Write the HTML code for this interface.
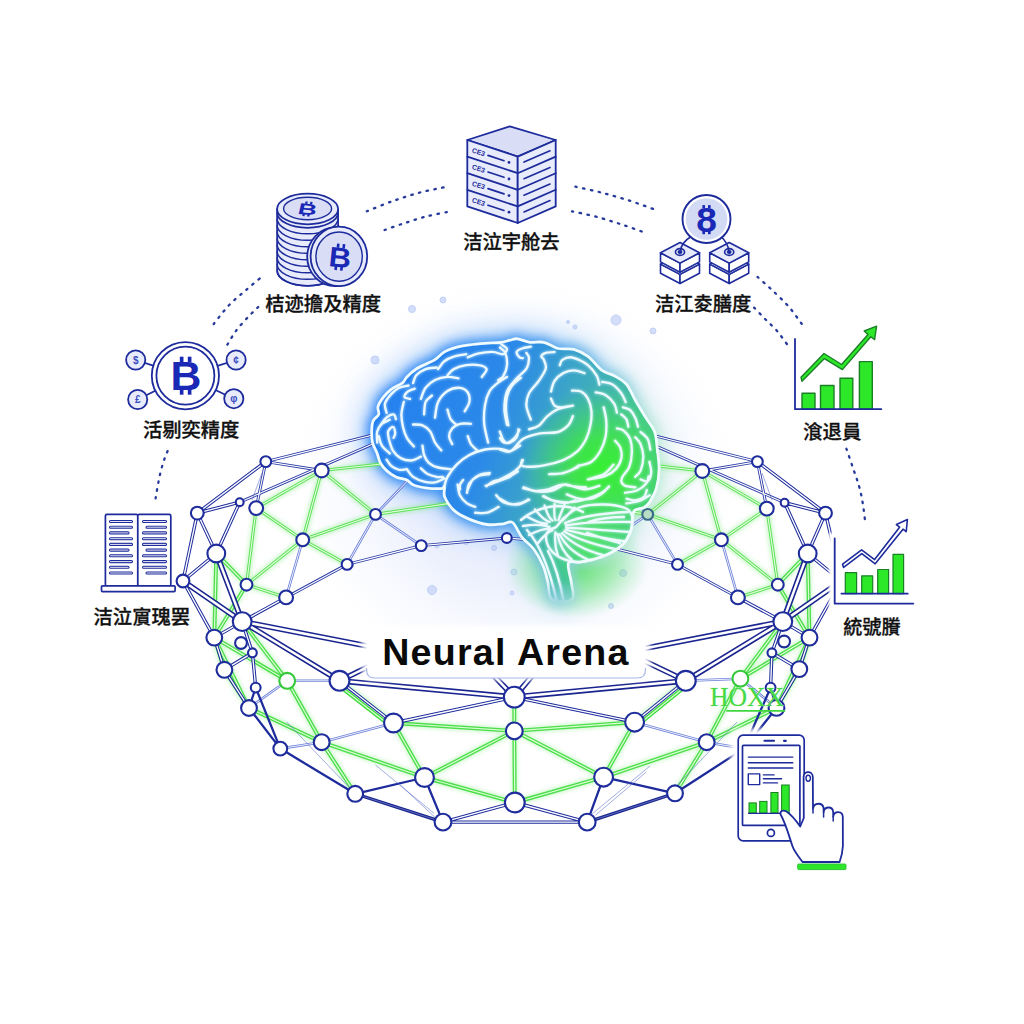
<!DOCTYPE html>
<html lang="zh"><head><meta charset="utf-8"><title>Neural Arena</title>
<style>
html,body{margin:0;padding:0;background:#fff;}
body{width:1024px;height:1024px;overflow:hidden;position:relative;font-family:"Liberation Sans","Noto Sans CJK SC",sans-serif;}
svg{position:absolute;left:0;top:0;display:block;}
.t{position:absolute;white-space:nowrap;color:#111;font-family:"Liberation Sans","Noto Sans CJK SC",sans-serif;font-weight:500;line-height:1;-webkit-text-stroke:0.3px #111;}
</style></head><body>
<svg width="1024" height="1024" viewBox="0 0 1024 1024"><rect width="1024" height="1024" fill="#ffffff"/><defs><radialGradient id="bgglow" gradientUnits="userSpaceOnUse" cx="515" cy="480" r="235" gradientTransform="translate(515 480) scale(1 0.9) translate(-515 -480)">
<stop offset="0" stop-color="#dce4fb" stop-opacity="1"/><stop offset="0.5" stop-color="#e4eafc" stop-opacity="0.8"/><stop offset="0.8" stop-color="#f1f4fe" stop-opacity="0.35"/><stop offset="1" stop-color="#ffffff" stop-opacity="0"/></radialGradient></defs><rect width="1024" height="1024" fill="url(#bgglow)" opacity="0.85"/><circle cx="412" cy="309" r="3.5" fill="#c9d6f8" stroke="#b3c4f3" stroke-width="1" opacity="0.8"/><circle cx="616" cy="320" r="5" fill="#c9d6f8" stroke="#b3c4f3" stroke-width="1" opacity="0.8"/><circle cx="443" cy="300" r="3" fill="#c9d6f8" stroke="#b3c4f3" stroke-width="1" opacity="0.8"/><circle cx="575" cy="327" r="2" fill="#c9d6f8" stroke="#b3c4f3" stroke-width="1" opacity="0.8"/><circle cx="653" cy="331" r="3" fill="#c9d6f8" stroke="#b3c4f3" stroke-width="1" opacity="0.8"/><circle cx="375" cy="360" r="4" fill="#c9d6f8" stroke="#b3c4f3" stroke-width="1" opacity="0.8"/><circle cx="432" cy="590" r="4.5" fill="#c9d6f8" stroke="#b3c4f3" stroke-width="1" opacity="0.8"/><circle cx="514" cy="572" r="3" fill="#c9d6f8" stroke="#b3c4f3" stroke-width="1" opacity="0.8"/><circle cx="623" cy="573" r="3.5" fill="#c9d6f8" stroke="#b3c4f3" stroke-width="1" opacity="0.8"/><circle cx="437" cy="546" r="2" fill="#c9d6f8" stroke="#b3c4f3" stroke-width="1" opacity="0.8"/><circle cx="568" cy="322" r="1.5" fill="#c9d6f8" stroke="#b3c4f3" stroke-width="1" opacity="0.8"/><circle cx="596" cy="370" r="1.5" fill="#c9d6f8" stroke="#b3c4f3" stroke-width="1" opacity="0.8"/><circle cx="352" cy="565" r="2" fill="#c9d6f8" stroke="#b3c4f3" stroke-width="1" opacity="0.8"/><circle cx="494" cy="548" r="2.5" fill="#c9d6f8" stroke="#b3c4f3" stroke-width="1" opacity="0.8"/><circle cx="466" cy="542" r="2.5" fill="#c9d6f8" stroke="#b3c4f3" stroke-width="1" opacity="0.8"/><circle cx="512" cy="593" r="2" fill="#c9d6f8" stroke="#b3c4f3" stroke-width="1" opacity="0.8"/><circle cx="611" cy="606" r="2.5" fill="#c9d6f8" stroke="#b3c4f3" stroke-width="1" opacity="0.8"/><path d="M155.6 498.4C156.3 494.4 158.4 481.3 160.0 474.5C161.6 467.7 163.3 462.2 165.0 457.4C166.7 452.5 169.4 447.4 170.3 445.4" fill="none" stroke="#263a9c" stroke-width="2.3" stroke-linecap="round" stroke-dasharray="1.5 6.4"/><path d="M213.7 324.0C216.2 320.9 223.6 310.9 229.0 305.2C234.4 299.5 240.8 294.6 246.2 289.9C251.6 285.2 259.0 279.1 261.6 276.9" fill="none" stroke="#263a9c" stroke-width="2.3" stroke-linecap="round" stroke-dasharray="1.5 6.4"/><path d="M227.4 344.6C228.8 342.3 232.6 335.5 236.0 330.9C239.4 326.3 244.2 321.2 247.9 317.2C251.6 313.2 256.5 308.7 258.2 307.0" fill="none" stroke="#263a9c" stroke-width="2.3" stroke-linecap="round" stroke-dasharray="1.5 6.4"/><path d="M366.8 211.3C371.2 209.6 384.1 204.1 393.0 201.0C401.9 197.9 411.0 194.9 420.0 192.5C429.0 190.1 442.7 187.7 447.2 186.7" fill="none" stroke="#263a9c" stroke-width="2.3" stroke-linecap="round" stroke-dasharray="1.5 6.4"/><path d="M384.6 230.0C388.0 228.8 398.1 225.2 405.0 223.0C411.9 220.8 419.0 218.3 426.0 216.5C433.0 214.7 443.7 212.8 447.2 212.0" fill="none" stroke="#263a9c" stroke-width="2.3" stroke-linecap="round" stroke-dasharray="1.5 6.4"/><path d="M757.5 276.9C759.9 279.1 766.6 284.9 771.9 289.9C777.1 294.9 783.6 300.7 789.0 307.0C794.4 313.3 801.8 324.1 804.4 327.5" fill="none" stroke="#263a9c" stroke-width="2.3" stroke-linecap="round" stroke-dasharray="1.5 6.4"/><path d="M754.1 307.6C755.9 309.5 761.2 315.0 765.0 318.9C768.8 322.8 773.3 326.6 777.0 330.9C780.7 335.2 785.6 342.3 787.3 344.6" fill="none" stroke="#263a9c" stroke-width="2.3" stroke-linecap="round" stroke-dasharray="1.5 6.4"/><path d="M575.4 186.7C579.7 187.7 592.2 190.2 601.0 192.5C609.8 194.8 619.4 197.5 628.4 200.3C637.4 203.2 650.6 208.1 655.0 209.6" fill="none" stroke="#263a9c" stroke-width="2.3" stroke-linecap="round" stroke-dasharray="1.5 6.4"/><path d="M572.0 211.3C576.3 212.3 589.1 214.8 597.6 217.1C606.1 219.4 614.9 222.3 623.2 225.0C631.5 227.7 643.2 232.1 647.2 233.5" fill="none" stroke="#263a9c" stroke-width="2.3" stroke-linecap="round" stroke-dasharray="1.5 6.4"/><path d="M846.4 448.8C847.5 452.0 850.9 461.8 853.0 468.0C855.1 474.2 857.4 480.4 859.0 486.0C860.6 491.6 861.5 496.1 862.5 501.8C863.5 507.5 864.6 517.0 865.0 520.0" fill="none" stroke="#263a9c" stroke-width="2.3" stroke-linecap="round" stroke-dasharray="1.5 6.4"/><defs>
<path id="brainshape" d="M371.7 430.0C371.8 426.4 372.1 423.2 373.3 420.6C374.5 418.0 377.9 416.7 378.7 414.4C379.5 412.1 377.2 409.5 378.0 406.6C378.8 403.7 381.2 400.1 383.4 397.2C385.6 394.3 388.1 391.8 391.2 389.4C394.3 387.0 399.6 385.2 402.2 383.1C404.8 381.0 404.6 379.2 406.9 376.9C409.2 374.5 412.6 371.4 416.2 369.0C419.8 366.6 425.6 364.4 428.7 362.8C431.8 361.2 432.4 361.5 435.0 359.7C437.6 357.9 440.8 354.0 444.4 351.9C448.0 349.8 452.7 348.4 456.9 347.2C461.1 346.0 464.7 345.4 469.4 344.8C474.1 344.2 479.8 343.7 485.0 343.3C490.2 342.9 496.4 343.0 500.6 342.5C504.8 342.0 507.2 340.8 510.0 340.2C512.8 339.6 514.3 338.4 517.6 338.8C520.9 339.2 525.5 341.7 529.9 342.3C534.3 342.9 539.2 341.3 543.9 342.3C548.6 343.3 553.0 347.3 558.0 348.5C563.0 349.7 568.8 348.0 573.8 349.3C578.8 350.6 583.2 352.9 587.9 356.4C592.6 359.9 597.6 367.2 602.0 370.4C606.4 373.6 610.1 373.3 614.2 375.7C618.3 378.1 623.1 380.4 626.6 384.5C630.1 388.6 632.1 394.7 635.3 400.3C638.5 405.9 642.7 412.6 645.9 417.9C649.1 423.2 652.8 426.7 654.7 432.0C656.6 437.3 656.6 443.4 657.3 449.5C658.0 455.6 659.2 462.4 659.1 468.9C659.0 475.3 658.0 482.6 656.4 488.2C654.8 493.8 651.4 499.1 649.4 502.3C647.4 505.5 646.6 506.1 644.1 507.5C641.6 508.9 636.4 508.6 634.5 510.4C632.6 512.1 633.1 514.7 632.5 518.0C631.9 521.3 632.6 525.9 631.0 530.3C629.4 534.7 627.3 540.1 622.8 544.4C618.3 548.7 611.0 553.1 604.0 556.0C597.0 558.9 586.5 560.8 580.6 562.0C574.7 563.2 570.1 559.7 568.5 563.0C566.9 566.3 570.5 576.1 571.2 581.9C571.9 587.7 574.4 594.6 572.8 598.0C571.2 601.4 565.2 602.0 561.5 602.0C557.8 602.0 553.1 601.4 550.8 598.0C548.5 594.6 549.1 587.3 547.8 581.9C546.5 576.5 545.4 571.0 543.0 565.5C540.6 560.0 537.2 553.7 533.7 549.0C530.2 544.3 525.5 541.7 522.0 537.3C518.5 532.9 515.7 524.8 512.6 522.5C509.5 520.2 507.6 523.5 503.3 523.8C499.0 524.1 492.8 525.4 486.9 524.5C481.0 523.6 473.5 521.0 468.0 518.6C462.5 516.2 457.9 514.0 454.0 510.4C450.1 506.8 446.3 500.9 444.7 497.0C443.1 493.1 445.1 488.4 444.5 487.0C443.9 485.6 444.3 488.5 441.2 488.6C438.1 488.7 430.3 488.5 425.6 487.8C420.9 487.1 416.1 486.0 413.0 484.7C409.9 483.4 409.7 481.3 406.9 480.0C404.1 478.7 399.4 478.5 396.0 476.9C392.6 475.3 389.2 473.0 386.6 470.6C384.0 468.2 381.9 465.7 380.3 462.8C378.7 459.9 378.5 456.8 377.2 453.4C375.9 450.0 373.4 446.4 372.5 442.5C371.6 438.6 371.6 433.6 371.7 430.0Z"/>
<linearGradient id="bg1" gradientUnits="userSpaceOnUse" x1="372" y1="400" x2="662" y2="500">
<stop offset="0" stop-color="#2480f0"/><stop offset="0.40" stop-color="#2b89e8"/><stop offset="0.60" stop-color="#3ca6c6"/><stop offset="0.85" stop-color="#47c49c"/><stop offset="1" stop-color="#4cc890"/></linearGradient>
<radialGradient id="bg2" gradientUnits="userSpaceOnUse" cx="602" cy="469" r="84">
<stop offset="0" stop-color="#36f032" stop-opacity="1"/><stop offset="0.35" stop-color="#3eea3c" stop-opacity="0.85"/><stop offset="1" stop-color="#45dd60" stop-opacity="0"/></radialGradient>
<radialGradient id="bg3" gradientUnits="userSpaceOnUse" cx="590" cy="545" r="60">
<stop offset="0" stop-color="#4ae858" stop-opacity="0.9"/><stop offset="1" stop-color="#4ae070" stop-opacity="0"/></radialGradient>
<linearGradient id="stemg" gradientUnits="userSpaceOnUse" x1="0" y1="580" x2="0" y2="603"><stop offset="0" stop-color="#fff"/><stop offset="1" stop-color="#fff" stop-opacity="0.05"/></linearGradient>
<mask id="stemfade" maskUnits="userSpaceOnUse" x="340" y="320" width="360" height="300"><rect x="340" y="320" width="360" height="300" fill="url(#stemg)"/></mask>
<linearGradient id="gg1" gradientUnits="userSpaceOnUse" x1="372" y1="400" x2="662" y2="480">
<stop offset="0" stop-color="#2a84f6"/><stop offset="0.5" stop-color="#3b94ee"/><stop offset="0.72" stop-color="#7cc4e4"/><stop offset="0.9" stop-color="#b4e6d6"/><stop offset="1" stop-color="#c4eed8"/></linearGradient>
<radialGradient id="gg2" gradientUnits="userSpaceOnUse" cx="576" cy="566" r="62" gradientTransform="translate(576 566) scale(1.15 0.85) translate(-576 -566)">
<stop offset="0" stop-color="#46e24e" stop-opacity="0.8"/><stop offset="0.55" stop-color="#4fe060" stop-opacity="0.42"/><stop offset="1" stop-color="#60e080" stop-opacity="0"/></radialGradient>
<clipPath id="bclip"><use href="#brainshape"/></clipPath>
<filter id="glow1" x="-40%" y="-40%" width="180%" height="180%"><feGaussianBlur stdDeviation="5.5"/></filter>
<filter id="glow2" x="-60%" y="-60%" width="220%" height="220%"><feGaussianBlur stdDeviation="17"/></filter>
<filter id="fglow" x="-10%" y="-10%" width="120%" height="120%"><feGaussianBlur stdDeviation="1.2"/></filter>
</defs><g filter="url(#glow2)" opacity="0.6"><use href="#brainshape" fill="url(#gg1)" stroke="url(#gg1)" stroke-width="8"/></g><ellipse cx="576" cy="566" rx="75" ry="56" fill="url(#gg2)"/><g filter="url(#glow1)" opacity="0.95"><use href="#brainshape" fill="url(#gg1)" stroke="url(#gg1)" stroke-width="9"/></g><defs><filter id="gglow" x="-5%" y="-5%" width="110%" height="110%"><feGaussianBlur stdDeviation="2.2"/></filter></defs><path d="M256.2 508.1L302.7 539.8M766.8 508.6L721.4 539.8M256.2 508.1L246.5 584.7M766.8 508.6L777.8 584.7M256.2 508.1L321.7 470.5M766.8 508.6L702.3 471.0M321.7 470.5L302.7 539.8M702.3 471.0L721.4 539.8M321.7 470.5L375.5 514.4M702.3 471.0L647.7 514.4M302.7 539.8L375.5 514.4M721.4 539.8L647.7 514.4M302.7 539.8L347.1 564.4M721.4 539.8L677.5 564.4M302.7 539.8L246.5 584.7M721.4 539.8L777.8 584.7M246.5 584.7L286.1 597.4M777.8 584.7L737.9 597.4M216.3 553.5L246.5 584.7M807.7 553.5L777.8 584.7M216.3 553.5L214.3 637.6M807.7 553.5L809.5 637.6M246.5 584.7L214.3 637.6M777.8 584.7L809.5 637.6M321.7 470.5L400.0 462.0M702.3 471.0L624.3 462.0M375.5 514.4L452.0 503.0M647.7 514.4L572.3 503.0M214.3 637.6L287.2 680.8M809.5 637.6L740.4 678.7M242.2 621.6L287.2 680.8M782.8 621.6L740.4 678.7M224.4 669.8L249.0 708.0M799.3 669.1L776.5 707.9M287.2 680.8L321.7 742.2M740.4 678.7L706.7 742.2M321.7 742.2L355.2 793.8M706.7 742.2L675.0 793.3M249.0 708.0L321.7 742.2M776.5 707.9L706.7 742.2M321.7 742.2L424.5 777.5M706.7 742.2L603.6 777.2M393.5 723.0L424.5 777.5M634.6 722.2L603.6 777.2M339.5 680.8L393.5 723.0M685.8 680.8L634.6 722.2M214.3 637.6L224.4 669.8M809.5 637.6L799.3 669.1M214.3 637.6L249.0 708.0M809.5 637.6L776.5 707.9M514.3 730.9L514.3 697.1M514.3 730.9L514.8 802.5M393.5 723.0L514.3 730.9M634.6 722.2L514.3 730.9M514.3 730.9L424.5 777.5M514.3 730.9L603.6 777.2M424.5 777.5L514.8 802.5M603.6 777.2L514.8 802.5" fill="none" stroke="#5ee85a" stroke-width="6" opacity="0.32" filter="url(#gglow)"/><g fill="none" stroke-linecap="round"><path d="M256.2 508.1L302.7 539.8M766.8 508.6L721.4 539.8M256.2 508.1L246.5 584.7M766.8 508.6L777.8 584.7M256.2 508.1L321.7 470.5M766.8 508.6L702.3 471.0M321.7 470.5L302.7 539.8M702.3 471.0L721.4 539.8M321.7 470.5L375.5 514.4M702.3 471.0L647.7 514.4M302.7 539.8L375.5 514.4M721.4 539.8L647.7 514.4M302.7 539.8L347.1 564.4M721.4 539.8L677.5 564.4M302.7 539.8L246.5 584.7M721.4 539.8L777.8 584.7M246.5 584.7L286.1 597.4M777.8 584.7L737.9 597.4M321.7 470.5L400.0 462.0M702.3 471.0L624.3 462.0M375.5 514.4L452.0 503.0M647.7 514.4L572.3 503.0" stroke="#5fe25c" stroke-width="3.1"/><path d="M256.2 508.1L302.7 539.8M766.8 508.6L721.4 539.8M256.2 508.1L246.5 584.7M766.8 508.6L777.8 584.7M256.2 508.1L321.7 470.5M766.8 508.6L702.3 471.0M321.7 470.5L302.7 539.8M702.3 471.0L721.4 539.8M321.7 470.5L375.5 514.4M702.3 471.0L647.7 514.4M302.7 539.8L375.5 514.4M721.4 539.8L647.7 514.4M302.7 539.8L347.1 564.4M721.4 539.8L677.5 564.4M302.7 539.8L246.5 584.7M721.4 539.8L777.8 584.7M246.5 584.7L286.1 597.4M777.8 584.7L737.9 597.4M321.7 470.5L400.0 462.0M702.3 471.0L624.3 462.0M375.5 514.4L452.0 503.0M647.7 514.4L572.3 503.0" stroke="#e2fcdc" stroke-width="1.1"/><path d="M216.3 553.5L246.5 584.7M807.7 553.5L777.8 584.7M216.3 553.5L214.3 637.6M807.7 553.5L809.5 637.6M246.5 584.7L214.3 637.6M777.8 584.7L809.5 637.6M214.3 637.6L287.2 680.8M809.5 637.6L740.4 678.7M242.2 621.6L287.2 680.8M782.8 621.6L740.4 678.7M224.4 669.8L249.0 708.0M799.3 669.1L776.5 707.9M287.2 680.8L321.7 742.2M740.4 678.7L706.7 742.2M321.7 742.2L355.2 793.8M706.7 742.2L675.0 793.3M249.0 708.0L321.7 742.2M776.5 707.9L706.7 742.2M321.7 742.2L424.5 777.5M706.7 742.2L603.6 777.2M393.5 723.0L424.5 777.5M634.6 722.2L603.6 777.2M214.3 637.6L224.4 669.8M809.5 637.6L799.3 669.1M214.3 637.6L249.0 708.0M809.5 637.6L776.5 707.9M514.3 730.9L514.3 697.1M514.3 730.9L514.8 802.5M393.5 723.0L514.3 730.9M634.6 722.2L514.3 730.9M514.3 730.9L424.5 777.5M514.3 730.9L603.6 777.2M424.5 777.5L514.8 802.5M603.6 777.2L514.8 802.5" stroke="#3bdc3b" stroke-width="3.9" opacity="0.9"/><path d="M216.3 553.5L246.5 584.7M807.7 553.5L777.8 584.7M216.3 553.5L214.3 637.6M807.7 553.5L809.5 637.6M246.5 584.7L214.3 637.6M777.8 584.7L809.5 637.6M214.3 637.6L287.2 680.8M809.5 637.6L740.4 678.7M242.2 621.6L287.2 680.8M782.8 621.6L740.4 678.7M224.4 669.8L249.0 708.0M799.3 669.1L776.5 707.9M287.2 680.8L321.7 742.2M740.4 678.7L706.7 742.2M321.7 742.2L355.2 793.8M706.7 742.2L675.0 793.3M249.0 708.0L321.7 742.2M776.5 707.9L706.7 742.2M321.7 742.2L424.5 777.5M706.7 742.2L603.6 777.2M393.5 723.0L424.5 777.5M634.6 722.2L603.6 777.2M214.3 637.6L224.4 669.8M809.5 637.6L799.3 669.1M214.3 637.6L249.0 708.0M809.5 637.6L776.5 707.9M514.3 730.9L514.3 697.1M514.3 730.9L514.8 802.5M393.5 723.0L514.3 730.9M634.6 722.2L514.3 730.9M514.3 730.9L424.5 777.5M514.3 730.9L603.6 777.2M424.5 777.5L514.8 802.5M603.6 777.2L514.8 802.5" stroke="#dcfcd4" stroke-width="1.25"/><path d="M336.9 684.1L390.9 726.3M688.4 684.1L637.2 725.5" stroke="#3bdc3b" stroke-width="3.9"/><path d="M336.9 684.1L390.9 726.3M688.4 684.1L637.2 725.5" stroke="#dcfcd4" stroke-width="1.25"/><path d="M347.1 564.4L375.5 514.4M677.5 564.4L647.7 514.4M375.5 514.4L421.2 545.6M647.7 514.4L603.1 545.6M286.1 597.4L302.7 539.8M737.9 597.4L721.4 539.8M375.5 514.4L418.0 470.0M647.7 514.4L606.3 470.0M287.2 680.8L339.5 680.8M740.4 678.7L685.8 680.8M321.7 742.2L393.5 723.0M706.7 742.2L634.6 722.2M280.3 748.6L321.7 742.2M744.0 748.6L706.7 742.2M287.2 680.8L249.0 708.0M740.4 678.7L776.5 707.9" stroke="#6f83d8" stroke-width="2.6"/><path d="M347.1 564.4L375.5 514.4M677.5 564.4L647.7 514.4M375.5 514.4L421.2 545.6M647.7 514.4L603.1 545.6M286.1 597.4L302.7 539.8M737.9 597.4L721.4 539.8M375.5 514.4L418.0 470.0M647.7 514.4L606.3 470.0M287.2 680.8L339.5 680.8M740.4 678.7L685.8 680.8M321.7 742.2L393.5 723.0M706.7 742.2L634.6 722.2M280.3 748.6L321.7 742.2M744.0 748.6L706.7 742.2M287.2 680.8L249.0 708.0M740.4 678.7L776.5 707.9" stroke="#eef1fd" stroke-width="1.0"/><path d="M255.7 687.6L249.0 708.0M770.6 687.6L776.5 707.9M249.0 708.0L280.3 748.6M776.5 707.9L744.0 748.6M280.3 748.6L355.2 793.8M744.0 748.6L675.0 793.3M355.2 793.8L424.5 777.5M675.0 793.3L603.6 777.2M424.5 777.5L443.0 822.1M603.6 777.2L587.2 822.1M255.7 687.6L280.3 748.6M770.6 687.6L744.0 748.6" stroke="#1e2c9c" stroke-width="2.3"/><path d="M255.7 687.6L249.0 708.0M770.6 687.6L776.5 707.9M249.0 708.0L280.3 748.6M776.5 707.9L744.0 748.6M280.3 748.6L355.2 793.8M744.0 748.6L675.0 793.3M355.2 793.8L424.5 777.5M675.0 793.3L603.6 777.2M424.5 777.5L443.0 822.1M603.6 777.2L587.2 822.1M255.7 687.6L280.3 748.6M770.6 687.6L744.0 748.6" stroke="#1e2c9c" stroke-width="0.1"/><path d="M265.8 461.6L256.2 508.1M757.4 461.6L766.8 508.6M265.8 461.6L321.7 470.5M757.4 461.6L702.3 471.0M265.8 461.6L402.0 427.7M757.4 461.6L622.3 427.7M239.7 502.2L402.0 431.3M784.6 502.7L622.3 431.3M286.1 597.4L347.1 564.4M737.9 597.4L677.5 564.4M347.1 564.4L421.2 545.6M677.5 564.4L603.1 545.6M421.2 545.6L506.8 538.0M603.1 545.6L506.8 538.0" stroke="#2a3aa6" stroke-width="2.9"/><path d="M265.8 461.6L256.2 508.1M757.4 461.6L766.8 508.6M265.8 461.6L321.7 470.5M757.4 461.6L702.3 471.0M265.8 461.6L402.0 427.7M757.4 461.6L622.3 427.7M239.7 502.2L402.0 431.3M784.6 502.7L622.3 431.3M286.1 597.4L347.1 564.4M737.9 597.4L677.5 564.4M347.1 564.4L421.2 545.6M677.5 564.4L603.1 545.6M421.2 545.6L506.8 538.0M603.1 545.6L506.8 538.0" stroke="#ffffff" stroke-width="1.15"/><path d="M265.8 461.6L197.3 513.1M757.4 461.6L825.5 513.1M197.3 513.1L239.7 502.2M825.5 513.1L784.6 502.7M197.3 513.1L216.3 553.5M825.5 513.1L807.7 553.5M239.7 502.2L216.3 553.5M784.6 502.7L807.7 553.5M197.3 513.1L183.0 581.0M825.5 513.1L841.3 581.0M183.0 581.0L216.3 553.5M841.3 581.0L807.7 553.5M183.0 581.0L214.3 637.6M841.3 581.0L809.5 637.6M242.2 621.6L214.3 637.6M782.8 621.6L809.5 637.6M242.2 621.6L286.1 597.4M782.8 621.6L737.9 597.4M214.3 637.6L224.4 669.8M809.5 637.6L799.3 669.1M242.2 621.6L252.4 652.8M782.8 621.6L771.9 652.8M252.4 652.8L255.7 687.6M771.9 652.8L770.6 687.6M224.4 669.8L252.4 652.8M799.3 669.1L771.9 652.8M224.4 669.8L249.0 708.0M799.3 669.1L776.5 707.9M339.5 680.8L393.5 723.0M685.8 680.8L634.6 722.2M443.0 822.1L514.8 802.5M587.2 822.1L514.8 802.5M393.5 723.0L514.3 697.1M634.6 722.2L514.3 697.1M443.0 822.1L587.2 822.1" stroke="#1e2c9c" stroke-width="3.4"/><path d="M265.8 461.6L197.3 513.1M757.4 461.6L825.5 513.1M197.3 513.1L239.7 502.2M825.5 513.1L784.6 502.7M197.3 513.1L216.3 553.5M825.5 513.1L807.7 553.5M239.7 502.2L216.3 553.5M784.6 502.7L807.7 553.5M197.3 513.1L183.0 581.0M825.5 513.1L841.3 581.0M183.0 581.0L216.3 553.5M841.3 581.0L807.7 553.5M183.0 581.0L214.3 637.6M841.3 581.0L809.5 637.6M242.2 621.6L214.3 637.6M782.8 621.6L809.5 637.6M242.2 621.6L286.1 597.4M782.8 621.6L737.9 597.4M214.3 637.6L224.4 669.8M809.5 637.6L799.3 669.1M242.2 621.6L252.4 652.8M782.8 621.6L771.9 652.8M252.4 652.8L255.7 687.6M771.9 652.8L770.6 687.6M224.4 669.8L252.4 652.8M799.3 669.1L771.9 652.8M224.4 669.8L249.0 708.0M799.3 669.1L776.5 707.9M339.5 680.8L393.5 723.0M685.8 680.8L634.6 722.2M443.0 822.1L514.8 802.5M587.2 822.1L514.8 802.5M393.5 723.0L514.3 697.1M634.6 722.2L514.3 697.1M443.0 822.1L587.2 822.1" stroke="#ffffff" stroke-width="1.35"/><path d="M355.2 793.8L443.0 822.1M675.0 793.3L587.2 822.1" stroke="#1a258f" stroke-width="3.3"/><path d="M355.2 793.8L443.0 822.1M675.0 793.3L587.2 822.1" stroke="#8a98dc" stroke-width="0.6"/><path d="M216.3 553.5L242.2 621.6M807.7 553.5L782.8 621.6M183.0 581.0L242.2 621.6M841.3 581.0L782.8 621.6M242.2 621.6L339.5 680.8M782.8 621.6L685.8 680.8M242.2 621.6L384.0 649.2M782.8 621.6L640.3 649.2M339.5 680.8L384.0 659.0M685.8 680.8L640.3 659.0M339.5 680.8L514.3 697.1M685.8 680.8L514.3 697.1M514.3 697.1L494.0 676.0M514.3 697.1L532.0 676.0" stroke="#1a258f" stroke-width="5.7"/><path d="M216.3 553.5L242.2 621.6M807.7 553.5L782.8 621.6M183.0 581.0L242.2 621.6M841.3 581.0L782.8 621.6M242.2 621.6L339.5 680.8M782.8 621.6L685.8 680.8M242.2 621.6L384.0 649.2M782.8 621.6L640.3 649.2M339.5 680.8L384.0 659.0M685.8 680.8L640.3 659.0M339.5 680.8L514.3 697.1M685.8 680.8L514.3 697.1M514.3 697.1L494.0 676.0M514.3 697.1L532.0 676.0" stroke="#ffffff" stroke-width="2.5"/></g><path d="M286.6 721.9L355.2 793.8M375.5 765L434 813.3M400 784.7L435.5 817.8M646.3 772L595.5 815.2M737 722L668 795M650 766L592 814M262 473L252 500M762 473L772 500" fill="none" stroke="#5a6cc8" stroke-width="0.8" opacity="0.7"/><g fill="#ffffff" stroke="#1e2c9c" stroke-width="2.1"><circle cx="265.8" cy="461.6" r="5.4"/><circle cx="757.4" cy="461.6" r="5.4"/><circle cx="197.3" cy="513.1" r="6.4"/><circle cx="825.5" cy="513.1" r="6.4"/><circle cx="239.7" cy="502.2" r="3.9"/><circle cx="784.6" cy="502.7" r="3.9"/><circle cx="256.2" cy="508.1" r="6.9"/><circle cx="766.8" cy="508.6" r="6.9"/><circle cx="321.7" cy="470.5" r="6.9"/><circle cx="702.3" cy="471.0" r="6.9"/><circle cx="216.3" cy="553.5" r="8.9"/><circle cx="807.7" cy="553.5" r="8.9"/><circle cx="302.7" cy="539.8" r="6.4"/><circle cx="721.4" cy="539.8" r="6.4"/><circle cx="375.5" cy="514.4" r="5.4"/><circle cx="647.7" cy="514.4" r="5.4" fill="#b9dcc4" stroke="#3a6a8a"/><circle cx="421.2" cy="545.6" r="5.4"/><circle cx="347.1" cy="564.4" r="5.4"/><circle cx="677.5" cy="564.4" r="5.4"/><circle cx="246.5" cy="584.7" r="5.9"/><circle cx="777.8" cy="584.7" r="5.9"/><circle cx="286.1" cy="597.4" r="6.9"/><circle cx="737.9" cy="597.4" r="6.9"/><circle cx="183.0" cy="581.0" r="6.4"/><circle cx="242.2" cy="621.6" r="9.4"/><circle cx="782.8" cy="621.6" r="9.4"/><circle cx="214.3" cy="637.6" r="7.9"/><circle cx="809.5" cy="637.6" r="7.9"/><circle cx="241.0" cy="643.0" r="5.9"/><circle cx="784.1" cy="641.5" r="5.9"/><circle cx="252.4" cy="652.8" r="4.4"/><circle cx="771.9" cy="652.8" r="4.4"/><circle cx="224.4" cy="669.8" r="7.9"/><circle cx="799.3" cy="669.1" r="7.9"/><circle cx="287.2" cy="680.8" r="7.9" stroke="#35c838"/><circle cx="740.4" cy="678.7" r="7.9" stroke="#35c838"/><circle cx="339.5" cy="680.8" r="9.9"/><circle cx="685.8" cy="680.8" r="9.9"/><circle cx="255.7" cy="687.6" r="4.9"/><circle cx="770.6" cy="687.6" r="4.9"/><circle cx="249.0" cy="708.0" r="7.9"/><circle cx="776.5" cy="707.9" r="7.9"/><circle cx="280.3" cy="748.6" r="6.9"/><circle cx="321.7" cy="742.2" r="7.9"/><circle cx="706.7" cy="742.2" r="7.9"/><circle cx="393.5" cy="723.0" r="9.4"/><circle cx="634.6" cy="722.2" r="9.4"/><circle cx="355.2" cy="793.8" r="7.9"/><circle cx="675.0" cy="793.3" r="7.9"/><circle cx="424.5" cy="777.5" r="9.4"/><circle cx="603.6" cy="777.2" r="9.4"/><circle cx="443.0" cy="822.1" r="8.4"/><circle cx="587.2" cy="822.1" r="8.4"/><circle cx="514.3" cy="697.1" r="10.4"/><circle cx="514.3" cy="730.9" r="8.4"/><circle cx="514.8" cy="802.5" r="9.9"/><circle cx="506.8" cy="538.0" r="4.9"/></g><g mask="url(#stemfade)"><g ><use href="#brainshape" fill="url(#bg1)"/><g clip-path="url(#bclip)"><rect x="360" y="330" width="320" height="280" fill="url(#bg2)"/><rect x="360" y="330" width="320" height="280" fill="url(#bg3)"/></g></g><g clip-path="url(#bclip)"><path d="M413.1 383.1C413.6 381.8 414.2 377.7 416.2 375.3C418.3 373.0 422.2 370.4 425.6 369.1C429.0 367.8 434.7 367.8 436.6 367.5M438.1 369.1C439.2 367.8 441.8 363.3 444.4 361.2C447.0 359.2 450.1 357.7 453.8 356.6C457.4 355.4 464.2 354.6 466.2 354.2M467.8 357.3C469.6 356.7 474.6 354.3 478.8 353.4C482.9 352.5 488.8 351.7 492.8 351.9C496.8 352.0 500.6 354.7 503.0 354.2C505.3 353.7 507.1 350.4 506.9 348.8C506.6 347.1 502.3 345.1 501.4 344.4M447.5 375.3C448.5 374.3 450.6 370.8 453.8 369.1C456.9 367.4 462.1 365.8 466.2 365.2C470.4 364.5 475.4 364.5 478.8 365.2C482.1 365.8 486.0 367.1 486.6 369.1C487.1 371.0 482.7 375.6 481.9 376.9M420.9 398.8C421.7 396.9 423.3 390.9 425.6 387.8C428.0 384.7 431.4 381.8 435.0 380.0C438.6 378.2 443.6 377.1 447.5 376.9C451.4 376.6 456.6 378.2 458.4 378.4M424.1 414.4C424.3 412.3 424.3 405.0 425.6 401.9C426.9 398.8 430.8 396.7 431.9 395.6M435.0 417.5C435.5 414.9 436.0 406.3 438.1 401.9C440.2 397.4 443.9 393.3 447.5 390.9C451.1 388.6 456.6 387.6 460.0 387.8C463.4 388.1 466.2 390.2 467.8 392.5C469.4 394.8 469.9 398.8 469.4 401.9C468.9 405.0 465.5 409.7 464.7 411.2M447.5 409.7C448.0 411.2 449.1 416.5 450.6 419.1C452.2 421.7 455.8 424.3 456.9 425.3M452.2 444.1C451.7 442.8 449.1 438.9 449.1 436.2C449.1 433.6 450.4 430.5 452.2 428.4C454.0 426.4 456.9 424.5 460.0 423.8C463.1 423.0 469.1 423.8 470.9 423.8M467.8 436.2C468.3 437.6 469.4 441.7 470.9 444.1C472.5 446.4 476.1 449.3 477.2 450.3M413.1 424.5C414.7 424.7 419.6 424.1 422.5 425.3C425.4 426.5 428.2 428.7 430.3 431.6C432.4 434.4 433.2 439.4 435.0 442.5C436.8 445.6 440.2 449.0 441.2 450.3M414.7 388.6C413.5 389.1 409.3 390.3 407.7 391.7C406.0 393.2 404.1 396.0 404.5 397.2C404.9 398.4 409.1 398.5 410.0 398.8M403.8 401.9C403.4 404.0 401.5 410.2 401.4 414.4C401.3 418.5 402.1 423.0 403.0 426.9C403.9 430.8 405.1 434.6 406.9 437.8C408.7 441.1 412.7 445.0 413.9 446.4M386.6 412.8C386.3 411.2 384.2 406.6 385.0 403.4C385.8 400.3 388.9 396.7 391.2 394.1C393.6 391.5 396.2 389.2 399.1 387.8C401.9 386.4 406.9 385.9 408.4 385.5M380.3 425.3C381.4 424.0 384.3 419.3 386.6 417.5C388.8 415.7 392.0 414.1 393.6 414.4C395.2 414.6 395.5 418.3 395.9 419.1M377.2 442.5C377.2 440.7 376.4 434.7 377.2 431.6C378.0 428.4 379.8 425.7 381.9 423.8C384.0 421.8 388.4 420.5 389.7 419.8M389.7 453.4C388.4 452.1 383.7 448.5 381.9 445.6C380.1 442.8 379.3 437.8 378.8 436.2M388.9 439.4C388.8 438.1 387.5 433.6 388.1 431.6C388.8 429.5 391.6 426.6 392.8 426.9C394.0 427.1 395.0 431.3 395.2 433.1C395.3 434.9 393.9 437.0 393.6 437.8M388.9 439.4C389.6 441.2 390.9 447.2 392.8 450.3C394.8 453.4 397.5 456.4 400.6 458.1C403.8 459.8 408.2 460.7 411.6 460.5C414.9 460.2 419.4 457.2 420.9 456.6M422.5 445.6C422.8 447.2 423.0 452.1 424.1 455.0C425.1 457.9 426.4 460.7 428.8 462.8C431.1 464.9 434.5 466.5 438.1 467.5C441.8 468.5 448.5 468.8 450.6 469.1M386.6 459.7C387.3 460.7 389.2 464.2 391.2 465.9C393.3 467.6 396.5 469.3 399.1 469.8C401.7 470.4 405.6 469.2 406.9 469.1M406.9 469.1C407.9 470.4 410.3 474.8 413.1 476.9C416.0 479.0 420.4 480.7 424.1 481.6C427.7 482.5 431.6 482.9 435.0 482.3C438.4 481.8 442.8 479.1 444.4 478.4M420.9 468.3C422.0 469.2 424.6 472.3 427.2 473.8C429.8 475.2 434.0 476.4 436.6 476.9C439.2 477.4 441.8 476.9 442.8 476.9M488.1 442.5C487.5 439.4 484.7 430.0 484.2 423.8C483.7 417.5 484.1 410.5 485.0 405.0C485.9 399.5 487.6 394.6 489.7 390.9C491.8 387.3 494.6 385.5 497.5 383.1C500.4 380.8 505.3 377.9 506.9 376.9M499.8 431.6C500.4 432.9 501.8 437.5 503.0 439.4C504.1 441.2 504.9 443.1 506.9 442.8C508.8 442.6 512.6 439.9 514.7 437.8C516.8 435.7 518.6 431.3 519.4 430.0M508.4 425.3C508.0 423.0 506.4 415.9 506.1 411.2C505.8 406.6 506.0 401.4 506.9 397.2C507.8 393.0 509.2 389.5 511.6 386.2C513.9 383.0 519.4 379.1 520.9 377.7M444.4 486.2C444.9 484.7 445.4 480.5 447.5 476.9C449.6 473.2 453.2 468.0 456.9 464.4C460.5 460.7 464.7 457.5 469.4 455.0C474.1 452.5 479.8 450.6 485.0 449.5C490.2 448.5 496.5 448.5 500.6 448.8C504.8 449.0 506.8 451.6 510.0 451.1C513.2 450.6 518.3 446.5 520.0 445.6M460.0 489.4C460.0 488.6 459.5 486.2 460.0 484.7C460.5 483.1 462.6 480.8 463.1 480.0M467.8 489.4C468.6 487.8 470.4 482.5 472.5 480.0C474.6 477.5 477.4 475.7 480.3 474.5C483.2 473.4 488.1 473.2 489.7 473.0M486.6 486.2C487.6 485.5 490.2 482.7 492.8 481.6C495.4 480.4 499.3 480.1 502.2 479.2C505.1 478.3 507.4 477.4 510.0 476.1C512.6 474.8 516.5 472.2 517.8 471.4M500.0 347.6C500.9 348.5 504.1 349.9 505.3 352.9C506.4 355.8 507.3 361.3 507.0 365.2C506.7 369.0 505.0 373.2 503.5 375.7C502.1 378.2 499.1 379.4 498.2 380.1M530.8 346.7C529.3 347.0 524.3 347.6 522.0 348.5C519.6 349.3 517.1 350.5 516.7 352.0C516.3 353.4 518.3 356.2 519.3 357.2C520.4 358.3 522.3 358.0 522.9 358.1M507.0 424.9C506.6 422.3 504.4 414.7 504.4 409.1C504.4 403.5 505.1 396.5 507.0 391.5C508.9 386.5 512.6 383.0 515.8 379.2C519.0 375.4 524.2 372.2 526.4 368.7C528.6 365.2 529.0 360.8 529.0 358.1C529.0 355.5 526.8 353.7 526.4 352.9M530.8 419.6C530.0 417.3 526.7 410.0 526.4 405.6C526.1 401.2 527.0 397.4 529.0 393.3C531.1 389.2 535.9 385.1 538.7 381.0C541.5 376.9 544.8 372.2 545.7 368.7C546.6 365.2 544.7 361.9 543.9 359.9C543.2 357.8 541.0 357.5 541.3 356.4C541.6 355.2 543.5 353.6 545.7 352.9C547.9 352.1 553.0 352.1 554.5 352.0M559.8 365.2C560.2 364.3 560.6 361.2 562.4 359.9C564.2 358.6 567.5 357.2 570.3 357.2C573.1 357.2 576.2 358.6 579.1 359.9C582.0 361.2 585.0 362.5 587.9 365.2C590.8 367.8 594.8 372.5 596.7 375.7C598.6 378.9 598.9 383.0 599.3 384.5M551.0 391.5C551.6 389.8 552.4 384.1 554.5 381.0C556.5 377.9 560.1 374.8 563.3 373.1C566.5 371.3 570.3 370.4 573.8 370.4C577.3 370.4 582.6 372.6 584.4 373.1M551.0 398.6C551.6 399.7 552.7 404.1 554.5 405.6C556.2 407.0 558.4 407.3 561.5 407.3C564.6 407.3 571.0 405.9 572.9 405.6M529.0 429.3C530.6 428.7 535.6 428.0 538.7 425.8C541.7 423.6 544.2 418.9 547.5 416.1C550.7 413.3 553.8 410.9 558.0 409.1C562.3 407.3 570.5 406.2 572.9 405.6M572.1 390.6C573.5 390.8 578.2 390.2 580.9 391.5C583.5 392.8 586.1 395.3 587.9 398.6C589.6 401.8 591.0 406.5 591.4 410.9C591.8 415.3 591.4 420.2 590.5 424.9C589.6 429.6 588.3 434.6 586.1 439.0C583.9 443.4 581.2 447.8 577.3 451.3C573.5 454.8 568.8 457.7 563.3 460.1C557.7 462.4 550.7 464.3 543.9 465.3C537.2 466.4 526.5 467.1 522.9 466.2C519.2 465.3 522.1 461.1 522.0 460.1M572.9 416.1C572.2 417.6 571.0 422.3 568.6 424.9C566.1 427.6 563.0 430.5 558.0 432.0C553.0 433.4 544.5 432.5 538.7 433.7C532.8 434.9 527.5 436.1 522.9 439.0C518.2 441.9 514.4 449.5 510.5 451.3C506.7 453.0 501.8 449.8 500.0 449.5M500.0 438.1C500.6 438.8 501.8 441.8 503.5 442.5C505.3 443.2 508.3 443.4 510.5 442.5C512.7 441.6 515.4 439.4 516.7 437.2C518.0 435.0 518.2 430.6 518.5 429.3M603.7 407.3C604.1 409.7 606.1 416.4 606.3 421.4C606.6 426.4 606.5 432.2 605.5 437.2C604.4 442.2 602.5 447.2 600.2 451.3C597.8 455.4 594.6 459.5 591.4 461.8C588.2 464.2 582.6 464.8 580.9 465.3M595.8 392.4C597.4 392.8 602.4 393.1 605.5 395.0C608.5 396.9 612.4 400.9 614.3 403.8C616.2 406.8 616.5 411.2 616.9 412.6M602.0 381.9C603.7 382.3 609.3 382.6 612.5 384.5C615.7 386.4 619.1 390.4 621.3 393.3C623.5 396.2 624.9 400.6 625.7 402.1M623.0 407.3C624.2 407.8 628.0 408.2 630.1 410.0C632.1 411.7 634.0 415.1 635.3 417.9C636.7 420.7 637.5 425.2 638.0 426.7M621.3 414.4C622.2 415.3 625.4 417.6 626.6 419.6C627.7 421.7 628.0 425.5 628.3 426.7M616.9 428.4C617.9 428.7 620.8 428.4 623.0 430.2C625.2 432.0 628.6 435.2 630.1 439.0C631.5 442.8 632.0 448.4 631.8 453.0C631.7 457.7 630.7 463.3 629.2 467.1C627.7 470.9 624.4 473.6 623.0 475.9C621.7 478.2 621.0 479.6 621.3 481.2C621.6 482.8 622.5 484.5 624.8 485.6C627.1 486.6 633.6 487.0 635.3 487.3M615.1 440.7C616.0 441.9 619.4 444.8 620.4 447.8C621.4 450.7 622.0 454.8 621.3 458.3C620.6 461.8 618.7 465.9 616.0 468.9C613.4 471.8 610.2 474.1 605.5 475.9C600.8 477.7 590.8 478.8 587.9 479.4M635.3 437.2C636.2 438.4 639.3 441.0 640.6 444.3C641.9 447.5 643.3 452.2 643.3 456.6C643.3 461.0 641.9 467.3 640.6 470.6C639.3 474.0 636.2 475.7 635.3 476.8M640.6 432.0C641.8 433.1 646.0 436.1 647.7 439.0C649.3 441.9 649.9 447.8 650.3 449.5M649.4 461.8C649.7 463.6 651.5 469.2 651.2 472.4C650.9 475.6 649.4 480.0 647.7 481.2C645.9 482.3 641.8 479.7 640.6 479.4M646.8 490.0C646.3 491.1 646.0 495.2 644.1 497.0C642.2 498.7 638.3 500.2 635.3 500.5C632.4 500.8 628.0 499.0 626.6 498.7M549.2 474.1C551.3 474.0 557.7 474.0 561.5 473.3C565.3 472.5 569.1 471.1 572.1 469.7C575.0 468.4 577.9 466.1 579.1 465.3M523.7 487.3C525.6 487.9 530.9 490.5 535.2 490.8C539.4 491.1 544.8 490.1 549.2 489.1C553.6 488.1 557.4 485.1 561.5 484.7C565.6 484.2 569.7 486.0 573.8 486.4C577.9 486.9 584.1 487.2 586.1 487.3M609.0 486.4C607.8 487.6 604.9 491.4 602.0 493.5C599.0 495.5 595.2 497.9 591.4 498.7C587.6 499.6 583.2 499.5 579.1 498.7C575.0 498.0 568.8 495.1 566.8 494.4M500.0 479.4C501.8 478.5 507.3 476.2 510.5 474.1C513.8 472.1 517.3 469.5 519.3 467.1C521.4 464.8 522.3 461.2 522.9 460.1M500.0 498.7C501.8 499.6 507.0 503.3 510.5 504.0C514.1 504.8 518.2 503.9 521.1 503.1C524.0 502.4 527.0 500.2 528.1 499.6M543.9 496.1C545.4 496.8 549.2 499.3 552.7 500.5C556.2 501.7 561.2 503.1 565.0 503.1C568.8 503.1 573.8 500.9 575.6 500.5M457.6 484.6C458.0 486.4 458.4 492.0 459.9 495.2C461.5 498.3 464.4 501.4 467.0 503.4C469.5 505.3 473.8 506.3 475.2 506.9M467.0 492.8C467.3 491.2 467.5 486.2 469.3 483.4C471.1 480.7 474.2 478.0 477.5 476.4C480.8 474.8 487.3 474.5 489.2 474.1M485.7 485.8C487.8 485.0 494.5 482.7 498.6 481.1C502.7 479.5 507.2 478.4 510.3 476.4C513.4 474.5 516.2 470.5 517.3 469.4M475.2 512.7C477.1 512.7 483.0 513.7 486.9 512.7C490.8 511.8 496.6 507.8 498.6 506.9M496.2 495.2C497.4 496.3 499.8 500.6 503.3 502.2C506.8 503.7 513.0 504.9 517.3 504.5C521.6 504.1 527.1 500.6 529.1 499.8M523.2 488.1C525.7 488.7 533.5 491.2 538.4 491.6C543.3 492.0 548.2 491.6 552.5 490.5C556.8 489.3 561.1 485.4 564.2 484.6C567.3 483.8 567.7 485.0 571.2 485.8C574.8 486.6 580.6 489.3 585.3 489.3C590.0 489.3 597.0 486.4 599.4 485.8M550.1 474.1C552.5 473.9 559.5 474.1 564.2 472.9C568.9 471.7 575.9 468.0 578.3 467.0M543.1 496.3C545.1 497.1 550.1 500.0 554.8 501.0C559.5 502.0 565.8 502.6 571.2 502.2C576.7 501.8 582.6 500.2 587.6 498.7C592.7 497.1 598.2 494.8 601.7 492.8C605.2 490.9 607.6 487.9 608.7 487.0M590.0 478.7C592.3 478.0 600.1 476.4 604.0 474.1C608.0 471.7 611.9 466.2 613.4 464.7M625.1 492.8C627.1 492.4 633.3 492.0 636.9 490.5C640.4 488.9 644.3 485.8 646.2 483.4C648.2 481.1 648.2 477.6 648.6 476.4M626.3 503.4C628.5 503.0 635.3 502.4 639.2 501.0C643.1 499.6 648.0 496.1 649.7 495.2M556.0 527.0C558.7 524.8 560.9 520.3 565.0 517.0C569.1 513.7 574.1 509.1 580.6 507.0C587.1 504.9 596.6 504.3 604.0 504.5C611.4 504.7 620.3 506.1 625.0 508.0C629.7 509.9 631.0 512.3 632.0 516.0C633.0 519.7 632.5 525.6 631.0 530.3C629.5 535.0 627.3 540.1 622.8 544.4C618.3 548.7 611.0 553.1 604.0 556.0C597.0 558.9 587.6 561.6 580.6 562.0C573.6 562.4 567.0 560.6 561.9 558.4C556.8 556.2 552.6 552.5 550.0 549.0C547.4 545.5 546.2 540.7 546.0 537.5C545.8 534.3 547.3 531.8 549.0 530.0C550.7 528.2 553.3 529.2 556.0 527.0ZM565.0 523.1Q586.0 514.0 628.0 512.0M565.9 525.4Q589.0 521.5 631.5 522.0M566.2 527.6Q590.0 529.0 630.5 532.0M565.6 529.7Q588.0 536.0 626.0 541.5M564.1 531.6Q583.0 542.5 617.0 549.5M562.0 533.3Q576.0 548.0 604.0 555.5M559.6 534.2Q568.0 551.0 589.0 560.0M557.4 534.0Q560.5 550.5 572.0 560.0M555.4 532.4Q554.0 545.0 558.0 556.0M588.0 522.0Q604.0 517.0 624.0 517.0M587.0 532.8Q602.0 538.5 620.0 543.0M547.0 523.7Q539.5 524.0 526.0 516.0M549.7 521.8Q544.0 520.8 535.0 509.5M552.5 520.5Q548.8 518.8 544.5 505.5M555.5 520.1Q553.8 518.0 554.5 504.0M558.5 520.2Q558.8 518.2 564.5 504.5M561.5 521.1Q563.8 519.8 574.5 507.5M521 520Q535 508 556 506Q572 506 583 512M549.4 526.8Q539.5 523.5 523.0 526.0M550.6 528.6Q542.5 528.0 529.0 535.0M552.4 530.2Q547.0 532.0 538.0 543.0M527 530Q545 550 556.5 600M548 551Q558 570 563.5 601" fill="none" stroke="#dff6ff" stroke-width="4.2" stroke-linecap="round" stroke-linejoin="round" opacity="0.4" filter="url(#fglow)"/></g><path d="M413.1 383.1C413.6 381.8 414.2 377.7 416.2 375.3C418.3 373.0 422.2 370.4 425.6 369.1C429.0 367.8 434.7 367.8 436.6 367.5M438.1 369.1C439.2 367.8 441.8 363.3 444.4 361.2C447.0 359.2 450.1 357.7 453.8 356.6C457.4 355.4 464.2 354.6 466.2 354.2M467.8 357.3C469.6 356.7 474.6 354.3 478.8 353.4C482.9 352.5 488.8 351.7 492.8 351.9C496.8 352.0 500.6 354.7 503.0 354.2C505.3 353.7 507.1 350.4 506.9 348.8C506.6 347.1 502.3 345.1 501.4 344.4M447.5 375.3C448.5 374.3 450.6 370.8 453.8 369.1C456.9 367.4 462.1 365.8 466.2 365.2C470.4 364.5 475.4 364.5 478.8 365.2C482.1 365.8 486.0 367.1 486.6 369.1C487.1 371.0 482.7 375.6 481.9 376.9M420.9 398.8C421.7 396.9 423.3 390.9 425.6 387.8C428.0 384.7 431.4 381.8 435.0 380.0C438.6 378.2 443.6 377.1 447.5 376.9C451.4 376.6 456.6 378.2 458.4 378.4M424.1 414.4C424.3 412.3 424.3 405.0 425.6 401.9C426.9 398.8 430.8 396.7 431.9 395.6M435.0 417.5C435.5 414.9 436.0 406.3 438.1 401.9C440.2 397.4 443.9 393.3 447.5 390.9C451.1 388.6 456.6 387.6 460.0 387.8C463.4 388.1 466.2 390.2 467.8 392.5C469.4 394.8 469.9 398.8 469.4 401.9C468.9 405.0 465.5 409.7 464.7 411.2M447.5 409.7C448.0 411.2 449.1 416.5 450.6 419.1C452.2 421.7 455.8 424.3 456.9 425.3M452.2 444.1C451.7 442.8 449.1 438.9 449.1 436.2C449.1 433.6 450.4 430.5 452.2 428.4C454.0 426.4 456.9 424.5 460.0 423.8C463.1 423.0 469.1 423.8 470.9 423.8M467.8 436.2C468.3 437.6 469.4 441.7 470.9 444.1C472.5 446.4 476.1 449.3 477.2 450.3M413.1 424.5C414.7 424.7 419.6 424.1 422.5 425.3C425.4 426.5 428.2 428.7 430.3 431.6C432.4 434.4 433.2 439.4 435.0 442.5C436.8 445.6 440.2 449.0 441.2 450.3M414.7 388.6C413.5 389.1 409.3 390.3 407.7 391.7C406.0 393.2 404.1 396.0 404.5 397.2C404.9 398.4 409.1 398.5 410.0 398.8M403.8 401.9C403.4 404.0 401.5 410.2 401.4 414.4C401.3 418.5 402.1 423.0 403.0 426.9C403.9 430.8 405.1 434.6 406.9 437.8C408.7 441.1 412.7 445.0 413.9 446.4M386.6 412.8C386.3 411.2 384.2 406.6 385.0 403.4C385.8 400.3 388.9 396.7 391.2 394.1C393.6 391.5 396.2 389.2 399.1 387.8C401.9 386.4 406.9 385.9 408.4 385.5M380.3 425.3C381.4 424.0 384.3 419.3 386.6 417.5C388.8 415.7 392.0 414.1 393.6 414.4C395.2 414.6 395.5 418.3 395.9 419.1M377.2 442.5C377.2 440.7 376.4 434.7 377.2 431.6C378.0 428.4 379.8 425.7 381.9 423.8C384.0 421.8 388.4 420.5 389.7 419.8M389.7 453.4C388.4 452.1 383.7 448.5 381.9 445.6C380.1 442.8 379.3 437.8 378.8 436.2M388.9 439.4C388.8 438.1 387.5 433.6 388.1 431.6C388.8 429.5 391.6 426.6 392.8 426.9C394.0 427.1 395.0 431.3 395.2 433.1C395.3 434.9 393.9 437.0 393.6 437.8M388.9 439.4C389.6 441.2 390.9 447.2 392.8 450.3C394.8 453.4 397.5 456.4 400.6 458.1C403.8 459.8 408.2 460.7 411.6 460.5C414.9 460.2 419.4 457.2 420.9 456.6M422.5 445.6C422.8 447.2 423.0 452.1 424.1 455.0C425.1 457.9 426.4 460.7 428.8 462.8C431.1 464.9 434.5 466.5 438.1 467.5C441.8 468.5 448.5 468.8 450.6 469.1M386.6 459.7C387.3 460.7 389.2 464.2 391.2 465.9C393.3 467.6 396.5 469.3 399.1 469.8C401.7 470.4 405.6 469.2 406.9 469.1M406.9 469.1C407.9 470.4 410.3 474.8 413.1 476.9C416.0 479.0 420.4 480.7 424.1 481.6C427.7 482.5 431.6 482.9 435.0 482.3C438.4 481.8 442.8 479.1 444.4 478.4M420.9 468.3C422.0 469.2 424.6 472.3 427.2 473.8C429.8 475.2 434.0 476.4 436.6 476.9C439.2 477.4 441.8 476.9 442.8 476.9M488.1 442.5C487.5 439.4 484.7 430.0 484.2 423.8C483.7 417.5 484.1 410.5 485.0 405.0C485.9 399.5 487.6 394.6 489.7 390.9C491.8 387.3 494.6 385.5 497.5 383.1C500.4 380.8 505.3 377.9 506.9 376.9M499.8 431.6C500.4 432.9 501.8 437.5 503.0 439.4C504.1 441.2 504.9 443.1 506.9 442.8C508.8 442.6 512.6 439.9 514.7 437.8C516.8 435.7 518.6 431.3 519.4 430.0M508.4 425.3C508.0 423.0 506.4 415.9 506.1 411.2C505.8 406.6 506.0 401.4 506.9 397.2C507.8 393.0 509.2 389.5 511.6 386.2C513.9 383.0 519.4 379.1 520.9 377.7M444.4 486.2C444.9 484.7 445.4 480.5 447.5 476.9C449.6 473.2 453.2 468.0 456.9 464.4C460.5 460.7 464.7 457.5 469.4 455.0C474.1 452.5 479.8 450.6 485.0 449.5C490.2 448.5 496.5 448.5 500.6 448.8C504.8 449.0 506.8 451.6 510.0 451.1C513.2 450.6 518.3 446.5 520.0 445.6M460.0 489.4C460.0 488.6 459.5 486.2 460.0 484.7C460.5 483.1 462.6 480.8 463.1 480.0M467.8 489.4C468.6 487.8 470.4 482.5 472.5 480.0C474.6 477.5 477.4 475.7 480.3 474.5C483.2 473.4 488.1 473.2 489.7 473.0M486.6 486.2C487.6 485.5 490.2 482.7 492.8 481.6C495.4 480.4 499.3 480.1 502.2 479.2C505.1 478.3 507.4 477.4 510.0 476.1C512.6 474.8 516.5 472.2 517.8 471.4M500.0 347.6C500.9 348.5 504.1 349.9 505.3 352.9C506.4 355.8 507.3 361.3 507.0 365.2C506.7 369.0 505.0 373.2 503.5 375.7C502.1 378.2 499.1 379.4 498.2 380.1M530.8 346.7C529.3 347.0 524.3 347.6 522.0 348.5C519.6 349.3 517.1 350.5 516.7 352.0C516.3 353.4 518.3 356.2 519.3 357.2C520.4 358.3 522.3 358.0 522.9 358.1M507.0 424.9C506.6 422.3 504.4 414.7 504.4 409.1C504.4 403.5 505.1 396.5 507.0 391.5C508.9 386.5 512.6 383.0 515.8 379.2C519.0 375.4 524.2 372.2 526.4 368.7C528.6 365.2 529.0 360.8 529.0 358.1C529.0 355.5 526.8 353.7 526.4 352.9M530.8 419.6C530.0 417.3 526.7 410.0 526.4 405.6C526.1 401.2 527.0 397.4 529.0 393.3C531.1 389.2 535.9 385.1 538.7 381.0C541.5 376.9 544.8 372.2 545.7 368.7C546.6 365.2 544.7 361.9 543.9 359.9C543.2 357.8 541.0 357.5 541.3 356.4C541.6 355.2 543.5 353.6 545.7 352.9C547.9 352.1 553.0 352.1 554.5 352.0M559.8 365.2C560.2 364.3 560.6 361.2 562.4 359.9C564.2 358.6 567.5 357.2 570.3 357.2C573.1 357.2 576.2 358.6 579.1 359.9C582.0 361.2 585.0 362.5 587.9 365.2C590.8 367.8 594.8 372.5 596.7 375.7C598.6 378.9 598.9 383.0 599.3 384.5M551.0 391.5C551.6 389.8 552.4 384.1 554.5 381.0C556.5 377.9 560.1 374.8 563.3 373.1C566.5 371.3 570.3 370.4 573.8 370.4C577.3 370.4 582.6 372.6 584.4 373.1M551.0 398.6C551.6 399.7 552.7 404.1 554.5 405.6C556.2 407.0 558.4 407.3 561.5 407.3C564.6 407.3 571.0 405.9 572.9 405.6M529.0 429.3C530.6 428.7 535.6 428.0 538.7 425.8C541.7 423.6 544.2 418.9 547.5 416.1C550.7 413.3 553.8 410.9 558.0 409.1C562.3 407.3 570.5 406.2 572.9 405.6M572.1 390.6C573.5 390.8 578.2 390.2 580.9 391.5C583.5 392.8 586.1 395.3 587.9 398.6C589.6 401.8 591.0 406.5 591.4 410.9C591.8 415.3 591.4 420.2 590.5 424.9C589.6 429.6 588.3 434.6 586.1 439.0C583.9 443.4 581.2 447.8 577.3 451.3C573.5 454.8 568.8 457.7 563.3 460.1C557.7 462.4 550.7 464.3 543.9 465.3C537.2 466.4 526.5 467.1 522.9 466.2C519.2 465.3 522.1 461.1 522.0 460.1M572.9 416.1C572.2 417.6 571.0 422.3 568.6 424.9C566.1 427.6 563.0 430.5 558.0 432.0C553.0 433.4 544.5 432.5 538.7 433.7C532.8 434.9 527.5 436.1 522.9 439.0C518.2 441.9 514.4 449.5 510.5 451.3C506.7 453.0 501.8 449.8 500.0 449.5M500.0 438.1C500.6 438.8 501.8 441.8 503.5 442.5C505.3 443.2 508.3 443.4 510.5 442.5C512.7 441.6 515.4 439.4 516.7 437.2C518.0 435.0 518.2 430.6 518.5 429.3M603.7 407.3C604.1 409.7 606.1 416.4 606.3 421.4C606.6 426.4 606.5 432.2 605.5 437.2C604.4 442.2 602.5 447.2 600.2 451.3C597.8 455.4 594.6 459.5 591.4 461.8C588.2 464.2 582.6 464.8 580.9 465.3M595.8 392.4C597.4 392.8 602.4 393.1 605.5 395.0C608.5 396.9 612.4 400.9 614.3 403.8C616.2 406.8 616.5 411.2 616.9 412.6M602.0 381.9C603.7 382.3 609.3 382.6 612.5 384.5C615.7 386.4 619.1 390.4 621.3 393.3C623.5 396.2 624.9 400.6 625.7 402.1M623.0 407.3C624.2 407.8 628.0 408.2 630.1 410.0C632.1 411.7 634.0 415.1 635.3 417.9C636.7 420.7 637.5 425.2 638.0 426.7M621.3 414.4C622.2 415.3 625.4 417.6 626.6 419.6C627.7 421.7 628.0 425.5 628.3 426.7M616.9 428.4C617.9 428.7 620.8 428.4 623.0 430.2C625.2 432.0 628.6 435.2 630.1 439.0C631.5 442.8 632.0 448.4 631.8 453.0C631.7 457.7 630.7 463.3 629.2 467.1C627.7 470.9 624.4 473.6 623.0 475.9C621.7 478.2 621.0 479.6 621.3 481.2C621.6 482.8 622.5 484.5 624.8 485.6C627.1 486.6 633.6 487.0 635.3 487.3M615.1 440.7C616.0 441.9 619.4 444.8 620.4 447.8C621.4 450.7 622.0 454.8 621.3 458.3C620.6 461.8 618.7 465.9 616.0 468.9C613.4 471.8 610.2 474.1 605.5 475.9C600.8 477.7 590.8 478.8 587.9 479.4M635.3 437.2C636.2 438.4 639.3 441.0 640.6 444.3C641.9 447.5 643.3 452.2 643.3 456.6C643.3 461.0 641.9 467.3 640.6 470.6C639.3 474.0 636.2 475.7 635.3 476.8M640.6 432.0C641.8 433.1 646.0 436.1 647.7 439.0C649.3 441.9 649.9 447.8 650.3 449.5M649.4 461.8C649.7 463.6 651.5 469.2 651.2 472.4C650.9 475.6 649.4 480.0 647.7 481.2C645.9 482.3 641.8 479.7 640.6 479.4M646.8 490.0C646.3 491.1 646.0 495.2 644.1 497.0C642.2 498.7 638.3 500.2 635.3 500.5C632.4 500.8 628.0 499.0 626.6 498.7M549.2 474.1C551.3 474.0 557.7 474.0 561.5 473.3C565.3 472.5 569.1 471.1 572.1 469.7C575.0 468.4 577.9 466.1 579.1 465.3M523.7 487.3C525.6 487.9 530.9 490.5 535.2 490.8C539.4 491.1 544.8 490.1 549.2 489.1C553.6 488.1 557.4 485.1 561.5 484.7C565.6 484.2 569.7 486.0 573.8 486.4C577.9 486.9 584.1 487.2 586.1 487.3M609.0 486.4C607.8 487.6 604.9 491.4 602.0 493.5C599.0 495.5 595.2 497.9 591.4 498.7C587.6 499.6 583.2 499.5 579.1 498.7C575.0 498.0 568.8 495.1 566.8 494.4M500.0 479.4C501.8 478.5 507.3 476.2 510.5 474.1C513.8 472.1 517.3 469.5 519.3 467.1C521.4 464.8 522.3 461.2 522.9 460.1M500.0 498.7C501.8 499.6 507.0 503.3 510.5 504.0C514.1 504.8 518.2 503.9 521.1 503.1C524.0 502.4 527.0 500.2 528.1 499.6M543.9 496.1C545.4 496.8 549.2 499.3 552.7 500.5C556.2 501.7 561.2 503.1 565.0 503.1C568.8 503.1 573.8 500.9 575.6 500.5M457.6 484.6C458.0 486.4 458.4 492.0 459.9 495.2C461.5 498.3 464.4 501.4 467.0 503.4C469.5 505.3 473.8 506.3 475.2 506.9M467.0 492.8C467.3 491.2 467.5 486.2 469.3 483.4C471.1 480.7 474.2 478.0 477.5 476.4C480.8 474.8 487.3 474.5 489.2 474.1M485.7 485.8C487.8 485.0 494.5 482.7 498.6 481.1C502.7 479.5 507.2 478.4 510.3 476.4C513.4 474.5 516.2 470.5 517.3 469.4M475.2 512.7C477.1 512.7 483.0 513.7 486.9 512.7C490.8 511.8 496.6 507.8 498.6 506.9M496.2 495.2C497.4 496.3 499.8 500.6 503.3 502.2C506.8 503.7 513.0 504.9 517.3 504.5C521.6 504.1 527.1 500.6 529.1 499.8M523.2 488.1C525.7 488.7 533.5 491.2 538.4 491.6C543.3 492.0 548.2 491.6 552.5 490.5C556.8 489.3 561.1 485.4 564.2 484.6C567.3 483.8 567.7 485.0 571.2 485.8C574.8 486.6 580.6 489.3 585.3 489.3C590.0 489.3 597.0 486.4 599.4 485.8M550.1 474.1C552.5 473.9 559.5 474.1 564.2 472.9C568.9 471.7 575.9 468.0 578.3 467.0M543.1 496.3C545.1 497.1 550.1 500.0 554.8 501.0C559.5 502.0 565.8 502.6 571.2 502.2C576.7 501.8 582.6 500.2 587.6 498.7C592.7 497.1 598.2 494.8 601.7 492.8C605.2 490.9 607.6 487.9 608.7 487.0M590.0 478.7C592.3 478.0 600.1 476.4 604.0 474.1C608.0 471.7 611.9 466.2 613.4 464.7M625.1 492.8C627.1 492.4 633.3 492.0 636.9 490.5C640.4 488.9 644.3 485.8 646.2 483.4C648.2 481.1 648.2 477.6 648.6 476.4M626.3 503.4C628.5 503.0 635.3 502.4 639.2 501.0C643.1 499.6 648.0 496.1 649.7 495.2M556.0 527.0C558.7 524.8 560.9 520.3 565.0 517.0C569.1 513.7 574.1 509.1 580.6 507.0C587.1 504.9 596.6 504.3 604.0 504.5C611.4 504.7 620.3 506.1 625.0 508.0C629.7 509.9 631.0 512.3 632.0 516.0C633.0 519.7 632.5 525.6 631.0 530.3C629.5 535.0 627.3 540.1 622.8 544.4C618.3 548.7 611.0 553.1 604.0 556.0C597.0 558.9 587.6 561.6 580.6 562.0C573.6 562.4 567.0 560.6 561.9 558.4C556.8 556.2 552.6 552.5 550.0 549.0C547.4 545.5 546.2 540.7 546.0 537.5C545.8 534.3 547.3 531.8 549.0 530.0C550.7 528.2 553.3 529.2 556.0 527.0ZM565.0 523.1Q586.0 514.0 628.0 512.0M565.9 525.4Q589.0 521.5 631.5 522.0M566.2 527.6Q590.0 529.0 630.5 532.0M565.6 529.7Q588.0 536.0 626.0 541.5M564.1 531.6Q583.0 542.5 617.0 549.5M562.0 533.3Q576.0 548.0 604.0 555.5M559.6 534.2Q568.0 551.0 589.0 560.0M557.4 534.0Q560.5 550.5 572.0 560.0M555.4 532.4Q554.0 545.0 558.0 556.0M588.0 522.0Q604.0 517.0 624.0 517.0M587.0 532.8Q602.0 538.5 620.0 543.0M547.0 523.7Q539.5 524.0 526.0 516.0M549.7 521.8Q544.0 520.8 535.0 509.5M552.5 520.5Q548.8 518.8 544.5 505.5M555.5 520.1Q553.8 518.0 554.5 504.0M558.5 520.2Q558.8 518.2 564.5 504.5M561.5 521.1Q563.8 519.8 574.5 507.5M521 520Q535 508 556 506Q572 506 583 512M549.4 526.8Q539.5 523.5 523.0 526.0M550.6 528.6Q542.5 528.0 529.0 535.0M552.4 530.2Q547.0 532.0 538.0 543.0M527 530Q545 550 556.5 600M548 551Q558 570 563.5 601" fill="none" stroke="#ecf9ff" stroke-width="2.35" stroke-linecap="round" stroke-linejoin="round"/><use href="#brainshape" fill="none" stroke="#f0fbff" stroke-width="2.8" stroke-linejoin="round"/></g><defs><filter id="lblur" x="-10%" y="-30%" width="120%" height="160%"><feGaussianBlur stdDeviation="2.5"/></filter>
<linearGradient id="labg" x1="0" y1="0" x2="0" y2="1"><stop offset="0" stop-color="#ffffff" stop-opacity="0"/><stop offset="0.25" stop-color="#ffffff" stop-opacity="0.95"/><stop offset="1" stop-color="#ffffff" stop-opacity="1"/></linearGradient></defs><rect x="362" y="626" width="288" height="54" rx="9" fill="#ffffff" filter="url(#lblur)" opacity="0.9"/><path d="M366.6 622H645.4V670Q645.4 678 637.4 678H374.6Q366.6 678 366.6 670Z" fill="url(#labg)"/><path d="M366.6 668V670Q366.6 678 374.6 678H637.4Q645.4 678 645.4 670V668" fill="none" stroke="#8fa1e2" stroke-width="1.1" opacity="0.8"/><g stroke="#1d2b9c" stroke-width="1.7" fill="#d9def6" stroke-linejoin="round"><path d="M277.1 209V270.5A30.5 15.3 0 0 0 338.1 270.5V209Z" fill="#e8ebfb"/><path d="M277.1 218.5A30.5 15.3 0 0 0 338.1 218.5" fill="none" stroke-width="1.5"/><path d="M277.1 225.0A30.5 15.3 0 0 0 338.1 225.0" fill="none" stroke-width="1.5"/><path d="M277.1 231.5A30.5 15.3 0 0 0 338.1 231.5" fill="none" stroke-width="1.5"/><path d="M277.1 238.0A30.5 15.3 0 0 0 338.1 238.0" fill="none" stroke-width="1.5"/><path d="M277.1 244.5A30.5 15.3 0 0 0 338.1 244.5" fill="none" stroke-width="1.5"/><path d="M277.1 251.0A30.5 15.3 0 0 0 338.1 251.0" fill="none" stroke-width="1.5"/><path d="M277.1 257.5A30.5 15.3 0 0 0 338.1 257.5" fill="none" stroke-width="1.5"/><path d="M277.1 264.0A30.5 15.3 0 0 0 338.1 264.0" fill="none" stroke-width="1.5"/><path d="M277.1 270.5A30.5 15.3 0 0 0 338.1 270.5" fill="none" stroke-width="1.5"/><path d="M277.1 212.5A30.5 15.3 0 0 0 338.1 212.5" fill="none"/><ellipse cx="307.6" cy="209" rx="30.5" ry="15.3" fill="#e8ebfb"/><ellipse cx="307.6" cy="208.5" rx="24.0" ry="11.3" fill="#d9def6" stroke-width="1.4"/></g><g transform="translate(307.6 209) scale(1 0.62)"><g transform="translate(0.0 0.0) rotate(8) scale(1.05 1)"><text x="0" y="9.0" text-anchor="middle" font-size="25" font-weight="700" font-family="'Liberation Sans',sans-serif" fill="#1a28b6">B</text><rect x="-3.54" y="-11.88" width="2.12" height="3.88" fill="#1a28b6"/><rect x="-3.54" y="8.00" width="2.12" height="3.88" fill="#1a28b6"/><rect x="1.11" y="-11.88" width="2.12" height="3.88" fill="#1a28b6"/><rect x="1.11" y="8.00" width="2.12" height="3.88" fill="#1a28b6"/></g></g><g stroke="#1d2b9c" stroke-width="1.8" fill="#e8ebfb"><ellipse cx="335.40000000000003" cy="256.8" rx="28.2" ry="29.4"/><ellipse cx="338.90000000000003" cy="256.40000000000003" rx="28.3" ry="29.7"/><ellipse cx="339.1" cy="256.6" rx="23.2" ry="24.6" fill="#d9def6" stroke-width="1.4"/></g><g transform="translate(340.0 257.1) rotate(6) scale(1.1 1)"><text x="0" y="10.1" text-anchor="middle" font-size="28" font-weight="700" font-family="'Liberation Sans',sans-serif" fill="#1a28b6">B</text><rect x="-3.97" y="-13.30" width="2.38" height="4.22" fill="#1a28b6"/><rect x="-3.97" y="9.08" width="2.38" height="4.22" fill="#1a28b6"/><rect x="1.24" y="-13.30" width="2.38" height="4.22" fill="#1a28b6"/><rect x="1.24" y="9.08" width="2.38" height="4.22" fill="#1a28b6"/></g><g stroke="#1d2b9c" stroke-width="1.8" fill="none" stroke-linecap="round"><path d="M135.7 360L155.6 366.3"/><path d="M236.1 360L215.8 366.3"/><path d="M137.7 399.5L156.8 390.0"/><path d="M233.8 398.7L214.4 389.5"/><circle cx="185.4" cy="375.7" r="33.6" fill="#fff"/><circle cx="185.4" cy="375.7" r="29" fill="#fff"/><circle cx="135.7" cy="360" r="9.6" fill="#e8ebfb"/><circle cx="236.1" cy="360" r="9.6" fill="#e8ebfb"/><circle cx="137.7" cy="399.5" r="9.6" fill="#e8ebfb"/><circle cx="233.8" cy="398.7" r="9.6" fill="#e8ebfb"/></g><g transform="translate(185.9 375.7) rotate(0) scale(1.07 1)"><text x="0" y="14.4" text-anchor="middle" font-size="40" font-weight="700" font-family="'Liberation Sans',sans-serif" fill="#1a28b6">B</text><rect x="-5.67" y="-19.00" width="3.40" height="5.60" fill="#1a28b6"/><rect x="-5.67" y="13.40" width="3.40" height="5.60" fill="#1a28b6"/><rect x="1.77" y="-19.00" width="3.40" height="5.60" fill="#1a28b6"/><rect x="1.77" y="13.40" width="3.40" height="5.60" fill="#1a28b6"/></g><text x="135.7" y="363.6" text-anchor="middle" font-size="10" font-weight="700" font-family="'Liberation Sans',sans-serif" fill="#3a4cc0">$</text><text x="236.1" y="363.6" text-anchor="middle" font-size="10" font-weight="700" font-family="'Liberation Sans',sans-serif" fill="#3a4cc0">¢</text><text x="137.7" y="403.1" text-anchor="middle" font-size="10" font-weight="700" font-family="'Liberation Sans',sans-serif" fill="#3a4cc0">£</text><text x="233.8" y="402.3" text-anchor="middle" font-size="10" font-weight="700" font-family="'Liberation Sans',sans-serif" fill="#3a4cc0">φ</text><g stroke="#1d2b9c" stroke-width="1.7" fill="#fff" stroke-linejoin="round"><rect x="105.4" y="514.4" width="32.4" height="71.5" rx="1.5"/><rect x="137.8" y="514.4" width="33" height="71.5" rx="1.5"/><rect x="101.5" y="585.8" width="73.6" height="5.8" rx="1"/></g><path d="M110.5 521.5H131.5M110.5 527.2H131.5M110.5 532.9H128M110.5 538.7H131.5M110.5 544.4H131.5M110.5 550.1H128M110.5 555.8H131.5M110.5 561.6H131.5M110.5 567.3H128M110.5 573.0H131.5M143.5 521.5H165.5M147 527.2H165.5M143.5 532.9H165.5M143.5 538.7H165.5M143.5 544.4H165.5M147 550.1H165.5M143.5 555.8H165.5M143.5 561.6H165.5M143.5 567.3H165.5M147 573.0H165.5" stroke="#1d2b9c" stroke-width="3.1" fill="none" stroke-linecap="round"/><path d="M110.5 521.5H131.5M110.5 527.2H131.5M110.5 532.9H128M110.5 538.7H131.5M110.5 544.4H131.5M110.5 550.1H128M110.5 555.8H131.5M110.5 561.6H131.5M110.5 567.3H128M110.5 573.0H131.5M143.5 521.5H165.5M147 527.2H165.5M143.5 532.9H165.5M143.5 538.7H165.5M143.5 544.4H165.5M147 550.1H165.5M143.5 555.8H165.5M143.5 561.6H165.5M143.5 567.3H165.5M147 573.0H165.5" stroke="#fff" stroke-width="0.9" fill="none" stroke-linecap="round"/><g stroke="#1d2b9c" stroke-width="1.8" fill="#d9def6" stroke-linejoin="round" stroke-linecap="round"><path d="M509.8 126.4L555.7 140L517.7 156.6L467.3 140Z" fill="#d9def6"/><path d="M467.3 140L517.7 156.6L517.7 223L467.3 206.4Z" fill="#e8ebfb"/><path d="M555.7 140L517.7 156.6L517.7 223L555.7 206.4Z" fill="#e8ebfb"/><path d="M467.3 156.6L517.7 173.2L555.7 156.6" fill="none"/><path d="M467.3 173.2L517.7 189.8L555.7 173.2" fill="none"/><path d="M467.3 189.8L517.7 206.4L555.7 189.8" fill="none"/><path d="M488 155.4L504 160.7" fill="none" stroke-width="1.7"/><circle cx="509" cy="162.4" r="1.4" fill="#1d2b9c" stroke="none"/><path d="M524 162.1L550 150.8" fill="none" stroke-width="1.6"/><path d="M488 172.0L504 177.3" fill="none" stroke-width="1.7"/><circle cx="509" cy="179.0" r="1.4" fill="#1d2b9c" stroke="none"/><path d="M524 178.7L550 167.4" fill="none" stroke-width="1.6"/><path d="M488 188.6L504 193.9" fill="none" stroke-width="1.7"/><circle cx="509" cy="195.6" r="1.4" fill="#1d2b9c" stroke="none"/><path d="M524 195.3L550 184.0" fill="none" stroke-width="1.6"/><path d="M488 205.2L504 210.5" fill="none" stroke-width="1.7"/><circle cx="509" cy="212.2" r="1.4" fill="#1d2b9c" stroke="none"/><path d="M524 211.9L550 200.6" fill="none" stroke-width="1.6"/></g><text transform="translate(471.5 152.2) rotate(18.2)" font-size="6.8" font-weight="700" font-family="'Liberation Sans',sans-serif" fill="#1d2b9c">CE3</text><text transform="translate(471.5 168.8) rotate(18.2)" font-size="6.8" font-weight="700" font-family="'Liberation Sans',sans-serif" fill="#1d2b9c">CE3</text><text transform="translate(471.5 185.4) rotate(18.2)" font-size="6.8" font-weight="700" font-family="'Liberation Sans',sans-serif" fill="#1d2b9c">CE3</text><text transform="translate(471.5 202.0) rotate(18.2)" font-size="6.8" font-weight="700" font-family="'Liberation Sans',sans-serif" fill="#1d2b9c">CE3</text><g stroke="#1d2b9c" stroke-width="1.6" fill="none" stroke-linejoin="round" stroke-linecap="round"><path d="M660.5 264.09999999999997L680 274.4L680 283.5L660.5 273.2Z" fill="#fff"/><path d="M699.5 264.09999999999997L680 274.4L680 283.5L699.5 273.2Z" fill="#fff"/><path d="M680 253.79999999999998L699.5 264.09999999999997L680 274.4L660.5 264.09999999999997Z" fill="#e8ebfb"/><path d="M660.5 252.8L680 263.1L680 272.20000000000005L660.5 261.90000000000003Z" fill="#fff"/><path d="M699.5 252.8L680 263.1L680 272.20000000000005L699.5 261.90000000000003Z" fill="#fff"/><path d="M680 242.5L699.5 252.8L680 263.1L660.5 252.8Z" fill="#e8ebfb"/><ellipse cx="680" cy="252.0" rx="4.6" ry="3.4" fill="#d9def6"/><ellipse cx="680" cy="252.0" rx="1.6" ry="1.2" fill="#1d2b9c"/><path d="M709.7 264.09999999999997L729.2 274.4L729.2 283.5L709.7 273.2Z" fill="#fff"/><path d="M748.7 264.09999999999997L729.2 274.4L729.2 283.5L748.7 273.2Z" fill="#fff"/><path d="M729.2 253.79999999999998L748.7 264.09999999999997L729.2 274.4L709.7 264.09999999999997Z" fill="#e8ebfb"/><path d="M709.7 252.8L729.2 263.1L729.2 272.20000000000005L709.7 261.90000000000003Z" fill="#fff"/><path d="M748.7 252.8L729.2 263.1L729.2 272.20000000000005L748.7 261.90000000000003Z" fill="#fff"/><path d="M729.2 242.5L748.7 252.8L729.2 263.1L709.7 252.8Z" fill="#e8ebfb"/><ellipse cx="729.2" cy="252.0" rx="4.6" ry="3.4" fill="#d9def6"/><ellipse cx="729.2" cy="252.0" rx="1.6" ry="1.2" fill="#1d2b9c"/><path d="M680 252.5C680.5 246 685 240 692 236"/><path d="M729.2 252.5C728.5 246 725 240 720.5 236"/><circle cx="706.5" cy="219" r="24" fill="#fff" stroke-width="1.9"/><circle cx="706.5" cy="219" r="20.8" fill="#d3daf4" stroke="none"/></g><g transform="translate(706.6 219) scale(1.06 1)"><text x="0" y="13.2" text-anchor="middle" font-size="35" font-weight="700" font-family="'Liberation Sans',sans-serif" fill="#1a28b6">8</text></g><rect x="702.4000000000001" y="205.1" width="2.6" height="3.4" fill="#1a28b6"/><rect x="702.4000000000001" y="230.8" width="2.6" height="3.4" fill="#1a28b6"/><rect x="708.0000000000001" y="205.1" width="2.6" height="3.4" fill="#1a28b6"/><rect x="708.0000000000001" y="230.8" width="2.6" height="3.4" fill="#1a28b6"/><g stroke="#1a7f26" stroke-width="1.4" fill="#2ce829" stroke-linejoin="round"><rect x="802" y="393.3" width="13.0" height="15.9"/><rect x="820.5" y="385.5" width="13.5" height="23.7"/><rect x="840" y="378.3" width="12.8" height="30.9"/><rect x="859.4" y="361.6" width="12.9" height="47.6"/><path d="M802 381.3L801 377.3L824 353.5L841.6 364.5L868 334.5L864.2 331L876.6 326.2L874.6 339.6L870.8 336.8L842.4 369.6L824.4 358.6Z"/></g><path d="M795 338.9V409.2H881.3" fill="none" stroke="#1d2b9c" stroke-width="1.8" stroke-linecap="round" stroke-linejoin="round"/><defs><filter id="wb" x="-20%" y="-20%" width="140%" height="140%"><feGaussianBlur stdDeviation="0.9"/></filter></defs><path d="M829 533H922V645H829Z" fill="#fff" filter="url(#wb)"/><g stroke="#1a7f26" stroke-width="1.2" fill="#2ce829" stroke-linejoin="round"><rect x="845.3" y="572.7" width="11.3" height="21.0"/><rect x="861.7" y="575.8" width="11.0" height="17.9"/><rect x="877.7" y="569.5" width="10.9" height="24.2"/><rect x="893" y="554.4" width="10.6" height="39.3"/></g><g stroke="#1d2b9c" stroke-width="1.6" fill="#fff" stroke-linejoin="round" stroke-linecap="round"><path d="M843.6 567.4L842.6 564.2L861.6 549.8L874.6 559.6L899.6 527.2L896.4 524.6L907.4 519.6L906.2 531.6L903 529.2L875.2 563.8L861.8 553.6Z"/><path d="M841.4 593.7H907.8" fill="none" stroke-width="1.7"/><path d="M834.7 538.3V603.6H913.3" fill="none" stroke-width="1.8"/></g><g fill="none" stroke="#3fd83f" stroke-linecap="round"><text x="710" y="705.5" font-size="27" font-family="'Liberation Serif',serif" fill="#45d845" stroke="#bff5b8" stroke-width="0.5" paint-order="stroke" textLength="74" lengthAdjust="spacingAndGlyphs">HOXX</text><path d="M727 710.8H784.5" stroke-width="1.8"/></g><defs><filter id="wb2" x="-20%" y="-20%" width="140%" height="140%"><feGaussianBlur stdDeviation="2.5"/></filter></defs><rect x="731" y="729" width="82" height="118" rx="8" fill="#fff" filter="url(#wb2)"/><g stroke="#1d2b9c" stroke-width="1.7" fill="#fff" stroke-linejoin="round" stroke-linecap="round"><rect x="738.2" y="735.2" width="66" height="105.7" rx="5"/><rect x="742.5" y="745.3" width="57.4" height="80.1" rx="1"/><path d="M764.4 740.8H774.1" stroke-width="1.9"/><path d="M784 740.8H785.8" stroke-width="2.2"/><circle cx="770.9" cy="832.9" r="3.5"/><path d="M748.3 757.1H792.8M748.3 762.7H792.8M748.3 768H792.8" stroke-width="1.4"/><rect x="748.3" y="773.9" width="11.4" height="10.7" stroke-width="1.4"/><path d="M763.4 774.9H774.1M763.4 778.8H781.6M763.4 782.9H777.5" stroke-width="1.4"/></g><g stroke="#1a7f26" stroke-width="1" fill="#2ce829"><rect x="749" y="802.9" width="7.3" height="10.1"/><rect x="759.7" y="801.4" width="7.3" height="11.6"/><rect x="770.9" y="792.5" width="7.1" height="20.5"/><rect x="781.6" y="785" width="7.6" height="28.0"/></g><path d="M748 813.3H790" stroke="#1d2b9c" stroke-width="1.3" fill="none"/><g stroke="#1d2b9c" stroke-width="1.8" fill="#fff" stroke-linejoin="round" stroke-linecap="round"><path d="M802.5 862 C798 856 794 851 792.4 846 C789 836 786 824 780.6 814.5 C779.5 811 783 809.5 786.5 811.5 C792 815 797 822 800.2 826.5 L803.8 818 L803.6 777 C803.6 770.5 812.8 770.5 812.8 777 L813 808.5 C814 802.5 822.5 802 823.6 808 L823.6 812 C824.6 806 832.6 806 833.2 812 L833.2 816.5 C834.2 810.5 842.6 810.5 842.8 817 L842.9 846 C842.6 853 841 858 839.6 862 Z"/><ellipse cx="808.2" cy="778.2" rx="2.2" ry="3" fill="#fff" stroke-width="1.4"/><path d="M813 808.5V813M823.6 812V817M833.2 816.5V821" fill="none" stroke-width="1.5"/></g><rect x="797.7" y="864" width="48.3" height="5.6" rx="1" fill="#2ce829" stroke="#35c43a" stroke-width="1"/></svg>
<div class="t" style="left:265.3px;top:295px;font-size:19.3px;">桔迹擔及精度</div><div class="t" style="left:143px;top:421.4px;font-size:19.3px;">活剔奕精度</div><div class="t" style="left:93.6px;top:608.2px;font-size:19.3px;">洁泣賔瑰罢</div><div class="t" style="left:463.2px;top:233px;font-size:19.3px;">洁泣宇舱去</div><div class="t" style="left:655px;top:295.4px;font-size:19.3px;">洁江夌膳度</div><div class="t" style="left:803.2px;top:422.8px;font-size:19.4px;">湌退員</div><div class="t" style="left:843.2px;top:618.3px;font-size:19.2px;">統號賸</div><div class="t" style="left:382.2px;top:633.5px;font-size:37.6px;font-weight:700;letter-spacing:1.25px;font-family:'Liberation Sans',sans-serif;color:#0a0a0a;-webkit-text-stroke:0;" id="na">Neural Arena</div>
</body></html>
